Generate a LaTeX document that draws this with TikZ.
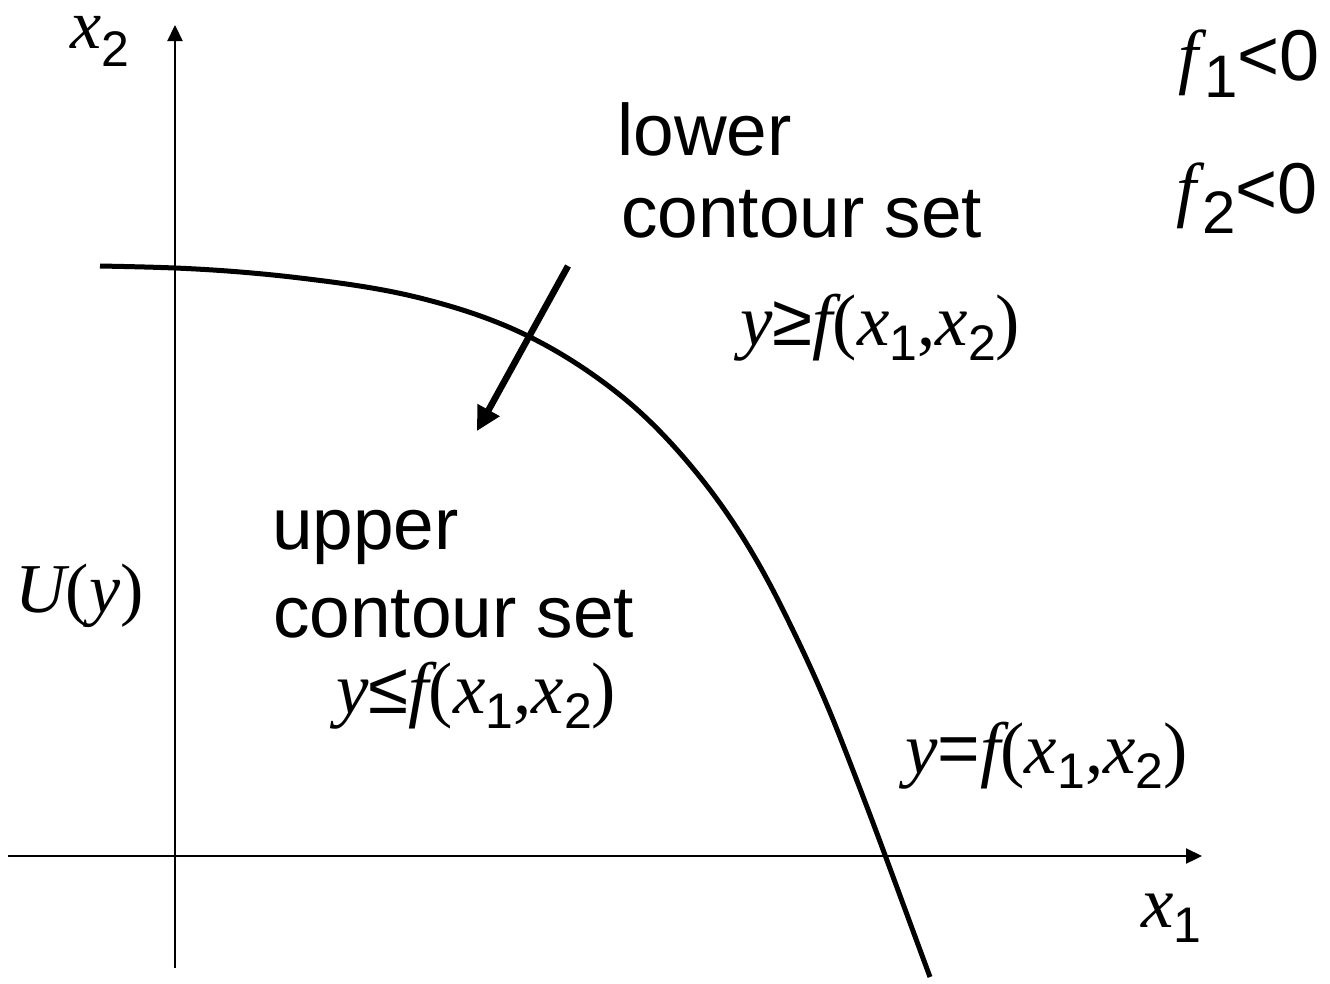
\documentclass[tikz,border=0pt]{standalone}
\usepackage{fontspec}
\setmainfont{Liberation Serif}
\setsansfont{Liberation Sans}
\usetikzlibrary{arrows.meta}
\newcommand\mi[1]{{\rmfamily\itshape #1}}
\newcommand\sbs[2][15pt]{\raisebox{-#1}{\fontsize{50}{50}\selectfont\sffamily #2}}
\begin{document}
\begin{tikzpicture}[x=1pt,y=-1pt,
  axis/.style={line width=2.2pt,-{Triangle[length=16pt,width=15pt]}},
  curve/.style={line width=5pt},
  bigarrow/.style={line width=6.5pt,-{Triangle[length=24pt,width=24pt]}},
  lbl/.style={inner sep=0pt,anchor=base west,font=\fontsize{73}{80}\selectfont},
  slbl/.style={lbl,font=\fontsize{73}{80}\selectfont\sffamily}]
\useasboundingbox (0,0) rectangle (1330,983);
% axes
\coordinate (ybot) at (175,968);
\coordinate (ytop) at (175,25);
\coordinate (xleft) at (8,856);
\coordinate (xright) at (1202,856);
\draw[axis] (ybot) -- (ytop);
\draw[axis] (xleft) -- (xright);
% curve y=f(x1,x2)
\draw[curve] (100,266)
  .. controls (125,266.5) and (150,267) .. (175,268)
  .. controls (216.7,269.7) and (258.3,273) .. (300,278)
  .. controls (340,282.8) and (380,288) .. (420,298)
  .. controls (456.7,307.2) and (493.3,318.7) .. (530,337)
  .. controls (560,352) and (590,371) .. (620,395)
  .. controls (646.7,416.3) and (673.3,443.7) .. (700,477)
  .. controls (726.7,510.3) and (753.3,550.7) .. (780,604)
  .. controls (800,644) and (820,686) .. (840,737)
  .. controls (855,775.3) and (870,814.5) .. (885,855)
  .. controls (900,895.5) and (915,936.5) .. (930,977);
% arrow
\coordinate (as) at (568,266);
\coordinate (ae) at (477,431);
\draw[bigarrow] (as) -- (ae);
% labels
\node[lbl,font=\fontsize{70}{80}\selectfont] (x2) at (70,48) {\mi{x}\sbs[18pt]{2}};
\node[lbl] (x1) at (1141,927) {\mi{x}\sbs[15pt]{1}};
\node[lbl,font=\fontsize{70}{80}\selectfont] (U) at (15,612) {\mi{U}(\mi{y})};
\node[lbl,font=\fontsize{72}{80}\selectfont] (f1) at (1178,80) {\mi{f}\kern6pt\raisebox{-17pt}{\fontsize{60}{60}\selectfont\sffamily 1}{\sffamily <0}};
\node[lbl,font=\fontsize{72}{80}\selectfont] (f2) at (1176,213) {\mi{f}\kern6pt\raisebox{-20pt}{\fontsize{60}{60}\selectfont\sffamily 2}{\sffamily <0}};
\node[slbl] (lower) at (617,155) {lower};
\node[slbl] (lowercs) at (621,237) {contour set};
\node[slbl] (upper) at (272,549) {upper};
\node[slbl] (uppercs) at (273,637) {contour set};
\node[lbl] (geq) at (740,345) {\mi{y}{\sffamily ≥}\mi{f}(\mi{x}\sbs{1},\mi{x}\sbs{2})};
\node[lbl] (leq) at (336,713) {\mi{y}{\sffamily ≤}\mi{f}(\mi{x}\sbs{1},\mi{x}\sbs{2})};
\node[lbl] (eq) at (905,773) {\mi{y}{\sffamily =}\mi{f}(\mi{x}\sbs{1},\mi{x}\sbs{2})};
\end{tikzpicture}
\end{document}
